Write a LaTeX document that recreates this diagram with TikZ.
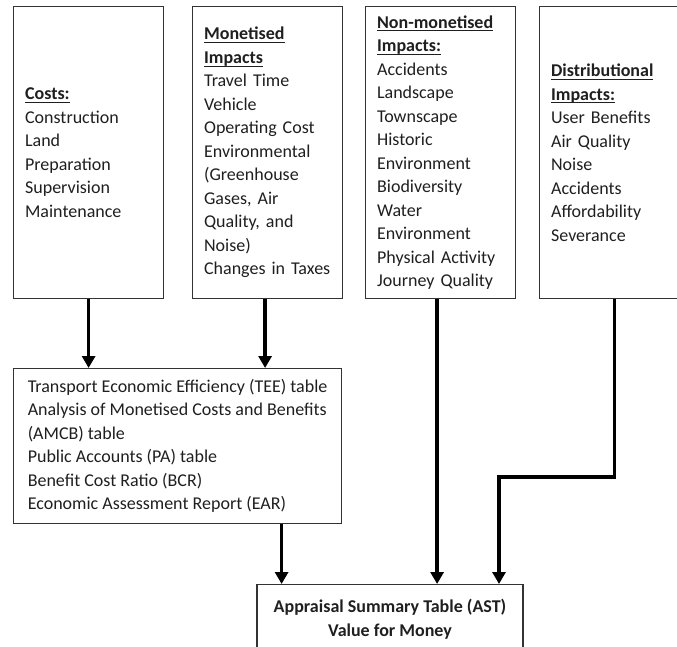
\documentclass[tikz,border=0pt]{standalone}
\usepackage{fontspec}
\setmainfont{Carlito}
\usetikzlibrary{arrows.meta,positioning}
\newsavebox{\headbox}
\newcommand{\heading}[1]{\leavevmode\sbox{\headbox}{\textbf{#1}}\usebox{\headbox}\llap{\rule[-3.2pt]{\wd\headbox}{1pt}}}
\tikzset{
  boxfont/.style={font=\fontsize{18}{23.5}\selectfont, text=black!88},
  impactbox/.style={boxfont, draw=black!80, line width=1.2pt, anchor=north west,
    minimum height=292pt, text width=127pt, inner xsep=11.5pt, align=left},
  tablebox/.style={boxfont, draw=black!80, line width=1.2pt, anchor=north west,
    minimum height=155pt, minimum width=328pt, align=left},
  astbox/.style={boxfont, draw=black!80, line width=1.2pt, anchor=north,
    minimum width=266pt, inner ysep=15pt, align=center},
  flow/.style={line width=3.6pt, -{Triangle[width=13pt,length=12pt]}}
}
\begin{document}
\begin{tikzpicture}[x=1pt,y=-1pt]
  %% Frame
  \useasboundingbox (0,0) rectangle (677,647);
  \clip (0,0) rectangle (677,647);
  %% Top row
  \node[impactbox] (costs) at (13,6) {\heading{Costs:}\\Construction\\Land\\Preparation\\Supervision\\Maintenance};
  \node[impactbox] (monet) at (192,6) {\heading{Monetised}\\\heading{Impacts}\\Travel Time\\Vehicle\\Operating Cost\\Environmental\\(Greenhouse\\Gases, Air\\Quality, and\\Noise)\\Changes~in~Taxes};
  \node[impactbox] (nonmonet) at (365,6) {\heading{Non-monetised}\\\heading{Impacts:}\\Accidents\\Landscape\\Townscape\\Historic\\Environment\\Biodiversity\\Water\\Environment\\Physical~Activity\\Journey~Quality};
  \node[impactbox] (distrib) at (539,6) {\heading{Distributional}\\\heading{Impacts:}\\User Benefits\\Air Quality\\Noise\\Accidents\\Affordability\\Severance};
  %% Economic tables
  \node[tablebox] (tee) at (13,368) {Transport Economic Efficiency (TEE) table\\Analysis of Monetised Costs and Benefits\\(AMCB) table\\Public Accounts (PA) table\\Benefit Cost Ratio (BCR)\\Economic Assessment Report (EAR)};
  %% Summary
  \node[astbox] (ast) at (390,584) {\textbf{Appraisal Summary Table (AST)}\\\textbf{Value for Money}};
  %% Arrows
  \draw[flow] (costs.south) -- (costs.south |- tee.north);
  \draw[flow] ([xshift=-2.5pt]monet.south) -- ([xshift=-2.5pt]monet.south |- tee.north);
  \draw[flow] ([xshift=104pt]tee.south) -- ([xshift=104pt]tee.south |- ast.north);
  \draw[flow] ([xshift=-3.5pt]nonmonet.south) -- ([xshift=-3.5pt]nonmonet.south |- ast.north);
  \coordinate (bend) at (499,477);
  \draw[flow] (distrib.south) |- (bend) -- (bend |- ast.north);
\end{tikzpicture}
\end{document}
